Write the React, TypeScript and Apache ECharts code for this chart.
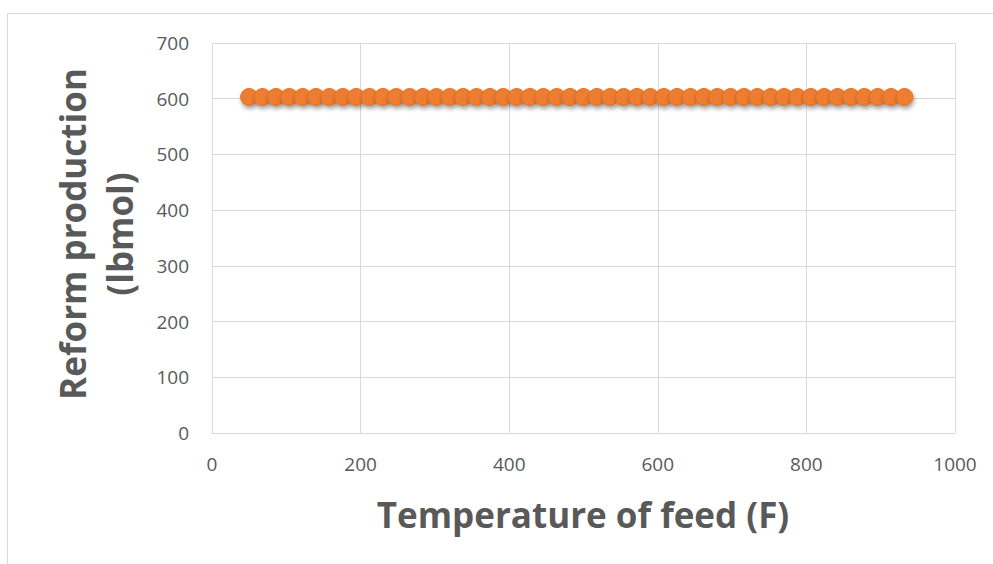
import React, { useEffect, useRef } from "react";
import * as echarts from "echarts";

const temperatures = [
  50, 68, 86, 104, 122, 140, 158, 176, 194, 212, 230, 248, 266, 284, 302, 320, 338,
  356, 374, 392, 410, 428, 446, 464, 482, 500, 518, 536, 554, 572, 590, 608, 626,
  644, 662, 680, 698, 716, 734, 752, 770, 788, 806, 824, 842, 860, 878, 896, 914, 932,
];
const production = [
  603, 603, 603, 603, 603, 603, 603, 603, 603, 603, 603, 603, 603, 603, 603, 603, 603,
  603, 603, 603, 603, 603, 603, 603, 603, 603, 603, 603, 603, 603, 603, 603, 603,
  603, 603, 603, 603, 603, 603, 603, 603, 603, 603, 603, 603, 603, 603, 603, 603, 603,
];
const xTitle = "Temperature of feed (F)";
const yTitle = "Reform production\n(lbmol)";

export default function App() {
  const ref = useRef<HTMLDivElement>(null);
  useEffect(() => {
    if (!ref.current) return;
    const chart = echarts.init(ref.current, undefined, { renderer: "svg" });
    const data = temperatures.map((t, i) => [t, production[i]]);
    chart.setOption({
      animation: false,
      backgroundColor: "#ffffff",
      grid: { left: 212, right: 38, top: 43, bottom: 131 },
      xAxis: {
        type: "value",
        min: 0,
        max: 1000,
        interval: 200,
        axisLine: { show: true, lineStyle: { color: "#D9D9D9", width: 1 } },
        axisTick: { show: false },
        splitLine: { show: true, lineStyle: { color: "#D9D9D9", width: 1 } },
        axisLabel: {
          color: "#595959",
          fontSize: 19,
          fontFamily: "Open Sans",
          margin: 21,
          formatter: (v: number) => String(v),
        },
      },
      yAxis: {
        type: "value",
        min: 0,
        max: 700,
        interval: 100,
        axisLine: { show: false },
        axisTick: { show: false },
        splitLine: { show: true, lineStyle: { color: "#D9D9D9", width: 1 } },
        axisLabel: {
          color: "#595959",
          fontSize: 19,
          fontFamily: "Open Sans",
          margin: 23,
          formatter: (v: number) => String(v),
        },
      },
      graphic: [
        { type: "line", shape: { x1: 7.5, y1: 13.5, x2: 1000, y2: 13.5 }, style: { stroke: "#D9D9D9", lineWidth: 1 } },
        { type: "line", shape: { x1: 7.5, y1: 13.5, x2: 7.5, y2: 600 }, style: { stroke: "#D9D9D9", lineWidth: 1 } },
        {
          type: "text",
          x: 583,
          y: 514,
          style: {
            text: xTitle,
            fill: "#595959",
            font: "bold 35px 'Open Sans'",
            textAlign: "center",
            textVerticalAlign: "middle",
          },
        },
        {
          type: "text",
          x: 96,
          y: 234,
          rotation: Math.PI / 2,
          style: {
            text: yTitle,
            fill: "#595959",
            font: "bold 35px 'Open Sans'",
            lineHeight: 47,
            textAlign: "center",
            textVerticalAlign: "middle",
          },
        },
      ],
      series: [
        {
          type: "line",
          data,
          symbol: "circle",
          symbolSize: 17,
          lineStyle: { color: "#ED7D31", width: 3 },
          itemStyle: {
            color: "#ED7D31",
            borderColor: "#E2701F",
            borderWidth: 1,
            shadowBlur: 4,
            shadowOffsetX: 1,
            shadowOffsetY: 3,
            shadowColor: "rgba(0,0,0,0.35)",
          },
        },
      ],
    });
    return () => chart.dispose();
  }, []);
  return (
    <div
      ref={ref}
      style={{ position: "fixed", left: 0, top: 0, width: 993, height: 564 }}
    />
  );
}
